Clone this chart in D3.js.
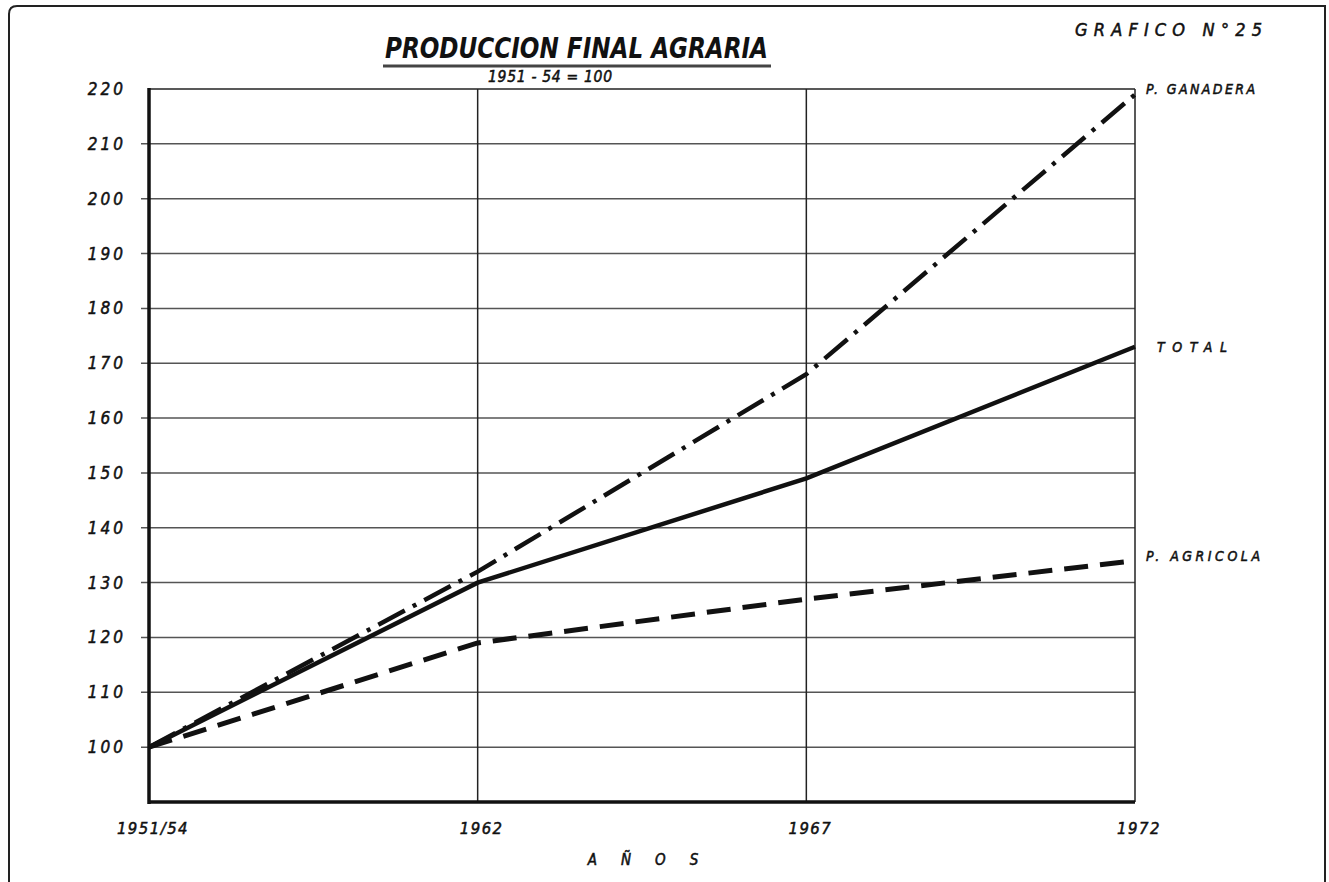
<!DOCTYPE html>
<html>
<head>
<meta charset="utf-8">
<script src="https://cdn.jsdelivr.net/npm/d3@7"></script>
<style>
  html, body { margin: 0; padding: 0; background: #fff; }
  svg { display: block; }
  text { font-family: "DejaVu Sans Condensed", "DejaVu Sans", sans-serif; font-style: italic; fill: #111; }
  .lbl { stroke: #111; stroke-width: 0.5; }
</style>
</head>
<body>
<script>
const categories = ["1951/54", "1962", "1967", "1972"];
const totalValues = [100, 130, 149, 173];
const ganaderaValues = [100, 132, 168, 219];
const agricolaValues = [100, 119, 127, 134];
const yTickValues = [100, 110, 120, 130, 140, 150, 160, 170, 180, 190, 200, 210, 220];
const seriesNames = ["P. GANADERA", "TOTAL", "P. AGRICOLA"];

const W = 1329, H = 882;
const svg = d3.select("body").append("svg").attr("width", W).attr("height", H);

const x = d3.scalePoint().domain(categories).range([149, 1135]);
const y = d3.scaleLinear().domain([90, 220]).range([802, 89]);

// outer frame
svg.append("path")
  .attr("d", `M9,${H+2} L9,14 Q9,6 17,6 L1325,6 L1325,${H+2}`)
  .attr("fill", "none").attr("stroke", "#222").attr("stroke-width", 2);

// horizontal gridlines
svg.append("g").selectAll("line").data(yTickValues.filter(v => v < 220)).join("line")
  .attr("x1", x(categories[0]) - 8).attr("x2", x(categories[3]))
  .attr("y1", d => y(d)).attr("y2", d => y(d))
  .attr("stroke", "#555").attr("stroke-width", 1.5);

// top line of plot
svg.append("line")
  .attr("x1", x(categories[0])).attr("x2", x(categories[3]))
  .attr("y1", y(220)).attr("y2", y(220))
  .attr("stroke", "#222").attr("stroke-width", 1.5);

// vertical gridlines
svg.append("g").selectAll("line").data(categories.slice(1)).join("line")
  .attr("x1", d => x(d)).attr("x2", d => x(d))
  .attr("y1", y(220)).attr("y2", y(90))
  .attr("stroke", "#222").attr("stroke-width", 1.5);

// axes (thick)
svg.append("line")
  .attr("x1", x(categories[0])).attr("x2", x(categories[0]))
  .attr("y1", y(220) - 1).attr("y2", y(90) + 2)
  .attr("stroke", "#111").attr("stroke-width", 3.5);
svg.append("line")
  .attr("x1", x(categories[0]) - 1).attr("x2", x(categories[3]))
  .attr("y1", y(90)).attr("y2", y(90))
  .attr("stroke", "#111").attr("stroke-width", 3.5);

// y tick labels
svg.append("g").selectAll("text").data(yTickValues).join("text")
  .attr("class", "lbl")
  .attr("x", 126).attr("y", d => y(d) + 6)
  .attr("text-anchor", "end")
  .attr("font-size", 17).attr("letter-spacing", 3)
  .text(d => d);

// x tick labels
svg.append("g").selectAll("text").data(categories).join("text")
  .attr("class", "lbl")
  .attr("x", d => x(d) + 4).attr("y", 834)
  .attr("text-anchor", "middle")
  .attr("font-size", 16.5).attr("letter-spacing", 1.5)
  .text(d => d);

// axis title
svg.append("text").attr("class", "lbl").attr("x", 655).attr("y", 865).attr("text-anchor", "middle")
  .attr("font-size", 15).attr("letter-spacing", 24).text("AÑOS");

// title
svg.append("text").attr("x", 385).attr("y", 58)
  .attr("font-size", 29).attr("font-weight", "bold")
  .attr("textLength", 383).attr("lengthAdjust", "spacingAndGlyphs")
  .text("PRODUCCION FINAL AGRARIA");
svg.append("line").attr("x1", 383).attr("x2", 771).attr("y1", 66).attr("y2", 66)
  .attr("stroke", "#444").attr("stroke-width", 3);
svg.append("text").attr("class", "lbl").attr("x", 488).attr("y", 82)
  .attr("font-size", 15.5)
  .attr("textLength", 124).attr("lengthAdjust", "spacing")
  .text("1951 - 54 = 100");

svg.append("text").attr("class", "lbl").attr("x", 1075).attr("y", 36)
  .attr("font-size", 18)
  .attr("textLength", 187).attr("lengthAdjust", "spacing")
  .text("GRAFICO N°25");

// series lines
const line = d3.line().x((d, i) => x(categories[i])).y(d => y(d));

svg.append("path").datum(agricolaValues).attr("d", line)
  .attr("fill", "none").attr("stroke", "#111").attr("stroke-width", 5)
  .attr("stroke-dasharray", "24,12");
svg.append("path").datum(ganaderaValues).attr("d", line)
  .attr("fill", "none").attr("stroke", "#111").attr("stroke-width", 4.5)
  .attr("stroke-dasharray", "30,9,4,9");
svg.append("path").datum(totalValues).attr("d", line)
  .attr("fill", "none").attr("stroke", "#111").attr("stroke-width", 4.5);

// series labels
const lastVals = [ganaderaValues[3], totalValues[3], agricolaValues[3]];
const labelX = [1146, 1157, 1146];
const labelDy = [0, 5, 0];
const labelLen = [109, 70, 114];
svg.append("g").selectAll("text").data(seriesNames).join("text")
  .attr("class", "lbl")
  .attr("x", (d, i) => labelX[i]).attr("y", (d, i) => y(lastVals[i]) + labelDy[i])
  .attr("font-size", 14)
  .attr("textLength", (d, i) => labelLen[i]).attr("lengthAdjust", "spacing")
  .text(d => d);
</script>
</body>
</html>
